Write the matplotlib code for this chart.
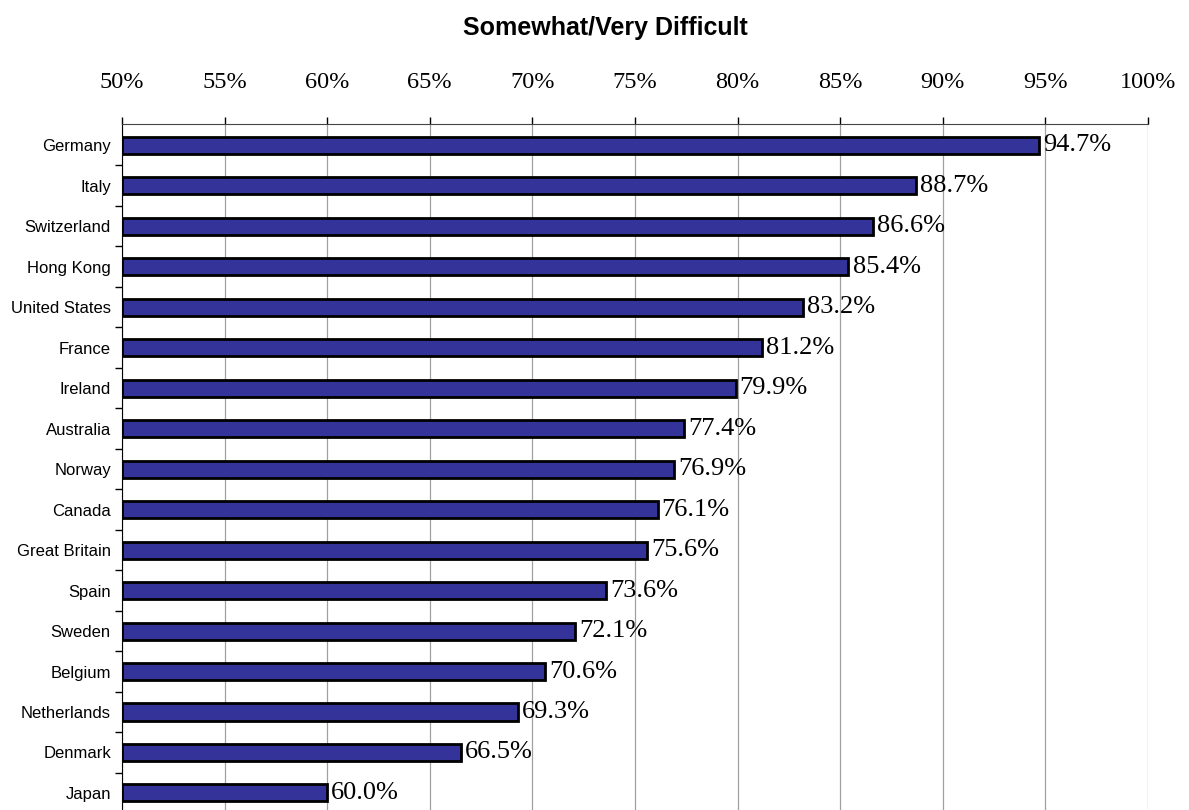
import matplotlib.pyplot as plt
import numpy as np

countries = ["Germany", "Italy", "Switzerland", "Hong Kong", "United States", "France",
             "Ireland", "Australia", "Norway", "Canada", "Great Britain", "Spain",
             "Sweden", "Belgium", "Netherlands", "Denmark", "Japan"]
values = [94.7, 88.7, 86.6, 85.4, 83.2, 81.2, 79.9, 77.4, 76.9, 76.1, 75.6,
          73.6, 72.1, 70.6, 69.3, 66.5, 60.0]

fig = plt.figure(figsize=(11.89, 8.10), dpi=100)
ax = fig.add_axes([122 / 1189, 0, (1148 - 122) / 1189, (810 - 124) / 810])

y = np.arange(len(countries))
ax.barh(y, np.array(values) - 50, left=50, height=0.42, color='#333399',
        edgecolor='black', linewidth=2, zorder=3)

ax.set_xlim(50, 100)
ax.set_ylim(16.42, -0.52)
ax.set_xticks(np.arange(50, 101, 5))
ax.set_xticklabels([f"{v}%" for v in range(50, 101, 5)],
                   family='Liberation Serif', fontsize=17.5)
ax.xaxis.tick_top()
ax.tick_params(axis='x', length=5, width=1, color='black', pad=17)
ax.grid(axis='x', color='#a0a0a0', linewidth=0.9, zorder=0)

ax.set_yticks(y)
ax.set_yticklabels(countries, family='Liberation Sans', fontsize=12)
ax.tick_params(axis='y', length=0, pad=8)
ax.set_yticks(np.arange(0.5, len(countries) - 1, 1), minor=True)
ax.tick_params(axis='y', which='minor', length=5, width=1, color='black')

for s in ['right', 'bottom']:
    ax.spines[s].set_visible(False)
ax.spines['top'].set_color('#444444')
ax.spines['left'].set_color('black')

for i, v in enumerate(values):
    ax.text(v + 0.2, i, f"{v:.1f}%", va='center', ha='left',
            family='Liberation Serif', fontsize=19, zorder=4)

fig.text(605 / 1189, 1 - 28 / 810, "Somewhat/Very Difficult",
         ha='center', va='center', fontsize=18, fontweight='bold', family='Liberation Sans')

fig.savefig('out.png', dpi=100)
